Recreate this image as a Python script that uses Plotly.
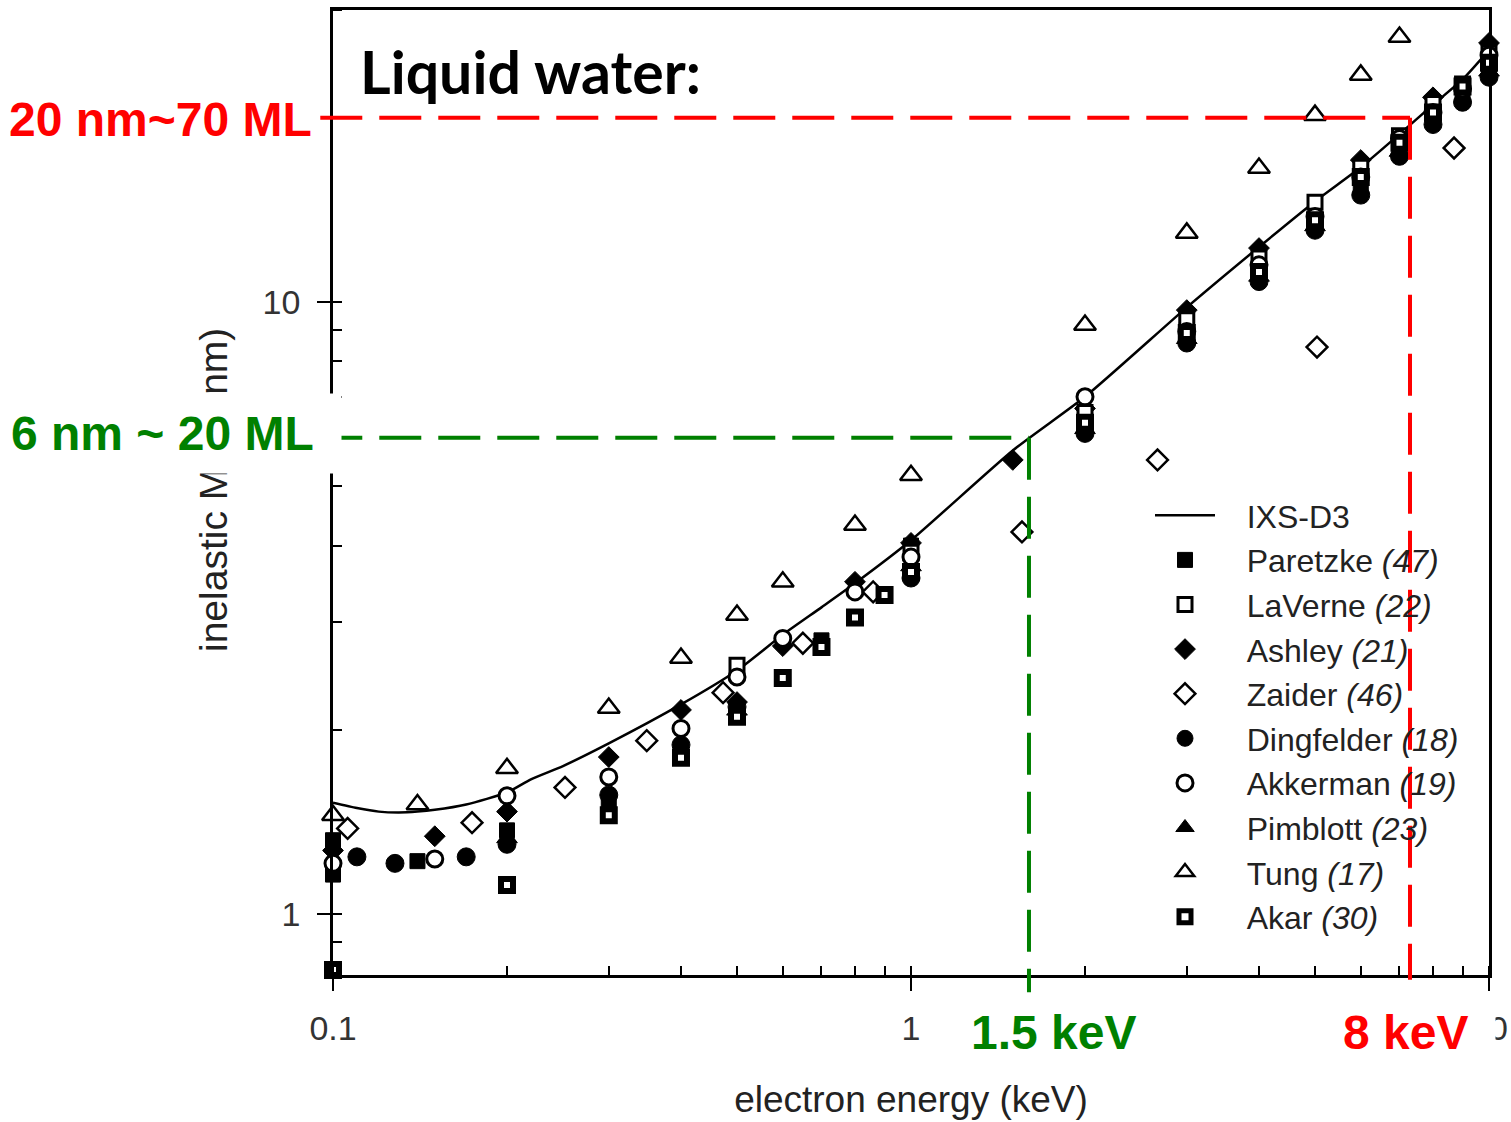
import math
import plotly.graph_objects as go

# ---------------- data ----------------
ixs_e = [0.1, 0.11, 0.12, 0.13, 0.14, 0.15, 0.17, 0.2, 0.22, 0.25, 0.3, 0.4, 0.5,
         0.6, 0.7, 0.8, 1.0, 1.5, 2, 3, 4, 5, 6, 7, 8, 9, 10]
ixs_l = [1.52, 1.49, 1.47, 1.465, 1.47, 1.48, 1.51, 1.58, 1.66, 1.745, 1.90, 2.20, 2.50,
         2.86, 3.17, 3.47, 4.08, 5.72, 7.0, 9.8, 12.3, 14.6, 16.6, 18.8, 21.0, 23.1, 25.8]

paretzke_e = [0.1, 0.1, 0.14, 0.2, 0.3, 0.4, 0.5, 0.7, 1.0, 2, 3, 4, 5, 6, 7, 8, 9, 10]
paretzke_l = [1.16, 1.32, 1.22, 1.37, 1.50, 1.83, 2.13, 2.80, 4.0, 6.4, 9.0, 11.3, 13.3, 15.5, 17.7, 20.2, 21.8, 24.4]

laverne_e = [0.5, 1.0, 2, 3, 4, 5, 6, 7, 8, 9, 10]
laverne_l = [2.55, 3.9, 6.6, 9.35, 11.8, 14.56, 16.6, 18.7, 21.1, 22.7, 25.5]

ashley_e = [0.1, 0.15, 0.2, 0.3, 0.4, 0.5, 0.6, 0.8, 1.0, 1.5, 2, 3, 4, 6, 8, 10]
ashley_l = [1.27, 1.34, 1.47, 1.805, 2.155, 2.22, 2.74, 3.49, 4.04, 5.52, 6.7, 9.7, 12.25, 17.06, 21.6, 26.5]

zaider_e = [0.106, 0.174, 0.252, 0.349, 0.473, 0.65, 0.86, 1.556, 2.67, 5.04, 8.7]
zaider_l = [1.38, 1.41, 1.61, 1.92, 2.30, 2.77, 3.36, 4.21, 5.52, 8.44, 17.85]

dingfelder_e = [0.11, 0.128, 0.17, 0.2, 0.3, 0.4, 0.5, 1.0, 2, 3, 4, 5, 6, 7, 8, 9, 10]
dingfelder_l = [1.24, 1.21, 1.24, 1.30, 1.565, 1.89, 2.18, 3.54, 6.1, 8.57, 10.8, 13.1, 14.95, 17.3, 19.5, 21.2, 23.3]

akkerman_e = [0.1, 0.15, 0.2, 0.3, 0.4, 0.5, 0.6, 0.8, 1.0, 2, 3, 4, 5, 6, 7, 8, 9, 10]
akkerman_l = [1.21, 1.23, 1.56, 1.675, 2.01, 2.44, 2.82, 3.36, 3.83, 7.0, 8.95, 11.5, 13.8, 16.0, 18.5, 20.4, 22.3, 25.3]

pimblott_e = [0.2, 0.5, 1.0, 2, 3, 4, 5, 7, 10]
pimblott_l = [1.33, 2.15, 3.7, 6.2, 8.7, 11.0, 13.3, 17.6, 23.8]

tung_e = [0.1, 0.14, 0.2, 0.3, 0.4, 0.5, 0.6, 0.8, 1.0, 2, 3, 4, 5, 6, 7]
tung_l = [1.45, 1.51, 1.73, 2.17, 2.62, 3.08, 3.49, 4.32, 5.21, 9.17, 12.97, 16.55, 20.2, 23.5, 27.1]

akar_e = [0.1, 0.2, 0.3, 0.4, 0.5, 0.6, 0.7, 0.8, 0.9, 1.0, 2, 3, 4, 5, 6, 7, 8, 9, 10]
akar_l = [0.81, 1.115, 1.45, 1.80, 2.10, 2.43, 2.73, 3.05, 3.32, 3.62, 6.35, 8.9, 11.2, 13.6, 16.0, 18.2, 20.4, 22.5, 24.6]

x_ticks = [0.1, 1, 10]
x_ticklabels = ["0.1", "1", "10"]
y_ticks = [1, 10]
y_ticklabels = ["1", "10"]

# guide-line values (energy in keV, MFP in nm)
red_E, red_L = 7.3, 20.0
green_E, green_L = 1.6, 6.0

# ---------------- styling ----------------
XR = [-1.0, 1.0]
YR = [math.log10(0.795), math.log10(30.0)]
BLACK = "#000000"
TXT = "#222222"
RED = "#FF0000"
GREEN = "#008000"
FONT = "Liberation Sans, Arial, sans-serif"
PAD = "\u00a0\u00a0\u00a0"

def xpaper(v):
    return (math.log10(v) - XR[0]) / (XR[1] - XR[0])

def ypaper(v):
    return (math.log10(v) - YR[0]) / (YR[1] - YR[0])

fig = go.Figure()

fig.add_trace(go.Scatter(x=ixs_e, y=ixs_l, mode="lines", name=PAD + "IXS-D3",
                         line=dict(color=BLACK, width=2.5, shape="spline", smoothing=0.6),
                         legendrank=1))

def add_pts(xs, ys, name, symbol, size, fill, lw, rank):
    fig.add_trace(go.Scatter(
        x=xs, y=ys, mode="markers", name=PAD + name, legendrank=rank, cliponaxis=False,
        marker=dict(symbol=symbol, size=size, color=fill,
                    line=dict(color=BLACK, width=lw))))

add_pts(paretzke_e, paretzke_l, "Paretzke <i>(47)</i>", "square", 15, BLACK, 1, 2)
add_pts(dingfelder_e, dingfelder_l, "Dingfelder <i>(18)</i>", "circle", 18, BLACK, 1, 6)
add_pts(pimblott_e, pimblott_l, "Pimblott <i>(23)</i>", "triangle-up", 18, BLACK, 1, 8)
add_pts(ashley_e, ashley_l, "Ashley <i>(21)</i>", "diamond", 16, BLACK, 1, 4)
add_pts(laverne_e, laverne_l, "LaVerne <i>(22)</i>", "square", 14, "white", 3, 3)
add_pts(akkerman_e, akkerman_l, "Akkerman <i>(19)</i>", "circle", 16, "white", 3, 7)
add_pts(zaider_e, zaider_l, "Zaider <i>(46)</i>", "diamond", 16, "white", 2.5, 5)
add_pts(tung_e, tung_l, "Tung <i>(17)</i>", "triangle-up", 19, "white", 2.5, 9)
add_pts(akar_e, akar_l, "Akar <i>(30)</i>", "square", 12, "white", 6, 10)

minor_in = dict(ticks="inside", ticklen=9, tickwidth=2, tickcolor=BLACK, dtick="D1",
                showgrid=False)
axis_common = dict(
    type="log", showgrid=False, zeroline=False, showline=True, linecolor=BLACK,
    linewidth=2.5, mirror=True, ticks="outside", ticklen=13, tickwidth=2,
    tickcolor=BLACK, tickfont=dict(family=FONT, size=34, color="#333333"),
    minor=minor_in,
)

fig.update_layout(
    xaxis=dict(range=XR, tickvals=x_ticks, ticktext=x_ticklabels, ticklabelstandoff=8,
               title=dict(text="electron energy (keV)", standoff=41,
                          font=dict(family=FONT, size=37, color=TXT)),
               **axis_common),
    yaxis=dict(range=YR, tickvals=y_ticks, ticktext=y_ticklabels, ticklabelstandoff=10,
               **axis_common),
    # mirrored axes carrying inward ticks on the top and right edges
    xaxis2=dict(type="log", range=XR, overlaying="x", anchor="y", side="top",
                showgrid=False, zeroline=False, showline=False, showticklabels=False,
                tickvals=x_ticks, ticks="inside", ticklen=9, tickwidth=2,
                tickcolor=BLACK, minor=minor_in),
    yaxis2=dict(type="log", range=YR, overlaying="y", anchor="x", side="right",
                showgrid=False, zeroline=False, showline=False, showticklabels=False,
                tickvals=y_ticks, ticks="inside", ticklen=9, tickwidth=2,
                tickcolor=BLACK, minor=minor_in),
)

# guide lines
dash = "42px,17px"
fig.add_shape(type="line", xref="paper", yref="paper",
              x0=-0.011, x1=xpaper(red_E), y0=ypaper(red_L), y1=ypaper(red_L),
              line=dict(color=RED, width=4, dash=dash), layer="above")
fig.add_shape(type="line", xref="paper", yref="paper",
              x0=xpaper(red_E), x1=xpaper(red_E), y0=ypaper(red_L), y1=-0.005,
              line=dict(color=RED, width=4, dash=dash), layer="above")
fig.add_shape(type="line", xref="paper", yref="paper",
              x0=-0.011, x1=xpaper(green_E), y0=ypaper(green_L), y1=ypaper(green_L),
              line=dict(color=GREEN, width=4, dash=dash), layer="above")
fig.add_shape(type="line", xref="paper", yref="paper",
              x0=xpaper(green_E), x1=xpaper(green_E), y0=ypaper(green_L), y1=-0.018,
              line=dict(color=GREEN, width=4, dash=dash), layer="above")

PW, PH = 1156.0, 965.0
L0, T0 = 333.0, 10.0

def px2paper(px, py):
    return (px - L0) / PW, 1 - (py - T0) / PH

annos = []
# y-axis title (as annotation so the label box can cover it)
ax, ay = px2paper(213, 490)
annos.append(dict(text="inelastic MFP (nm)", x=ax, y=ay, xref="paper", yref="paper",
                  textangle=-90, showarrow=False, xanchor="center", yanchor="middle",
                  font=dict(family=FONT, size=39, color=TXT)))
ax, ay = px2paper(10, 433)
annos.append(dict(text="<b>6 nm ~ 20 ML</b>", x=ax, y=ay, xref="paper", yref="paper",
                  showarrow=False, xanchor="left", yanchor="middle", width=330, height=79,
                  align="left", bgcolor="white", borderpad=0,
                  font=dict(family=FONT, size=48, color=GREEN)))
ax, ay = px2paper(314, 120)
annos.append(dict(text="<b>20 nm~70 ML</b>", x=ax, y=ay, xref="paper", yref="paper",
                  showarrow=False, xanchor="right", yanchor="middle",
                  font=dict(family=FONT, size=48, color=RED)))
ax, ay = px2paper(358, 72)
annos.append(dict(text="<b>Liquid water:</b>", x=ax, y=ay, xref="paper", yref="paper",
                  showarrow=False, xanchor="left", yanchor="middle",
                  font=dict(family="Lato, sans-serif", size=59, color=BLACK)))
ax, ay = px2paper(1053, 1032)
annos.append(dict(text="<b>1.5 keV</b>", x=ax, y=ay, xref="paper", yref="paper",
                  showarrow=False, xanchor="center", yanchor="middle",
                  font=dict(family=FONT, size=48, color=GREEN)))
ax, ay = px2paper(1340, 1032)
annos.append(dict(text="<b>8 keV</b>", x=ax, y=ay, xref="paper", yref="paper",
                  showarrow=False, xanchor="left", yanchor="middle", width=150,
                  align="left", bgcolor="white", borderpad=2,
                  font=dict(family=FONT, size=48, color=RED)))

lx, ly = px2paper(1150, 488)
fig.update_layout(
    width=1511, height=1122,
    margin=dict(l=333, r=22, t=10, b=147, autoexpand=False),
    paper_bgcolor="white", plot_bgcolor="white",
    showlegend=True,
    legend=dict(x=lx, y=ly, xanchor="left", yanchor="top", bgcolor="rgba(0,0,0,0)",
                font=dict(family=FONT, size=32, color=TXT), itemwidth=60,
                tracegroupgap=0),
    annotations=annos,
)

fig.write_html("out.html")
